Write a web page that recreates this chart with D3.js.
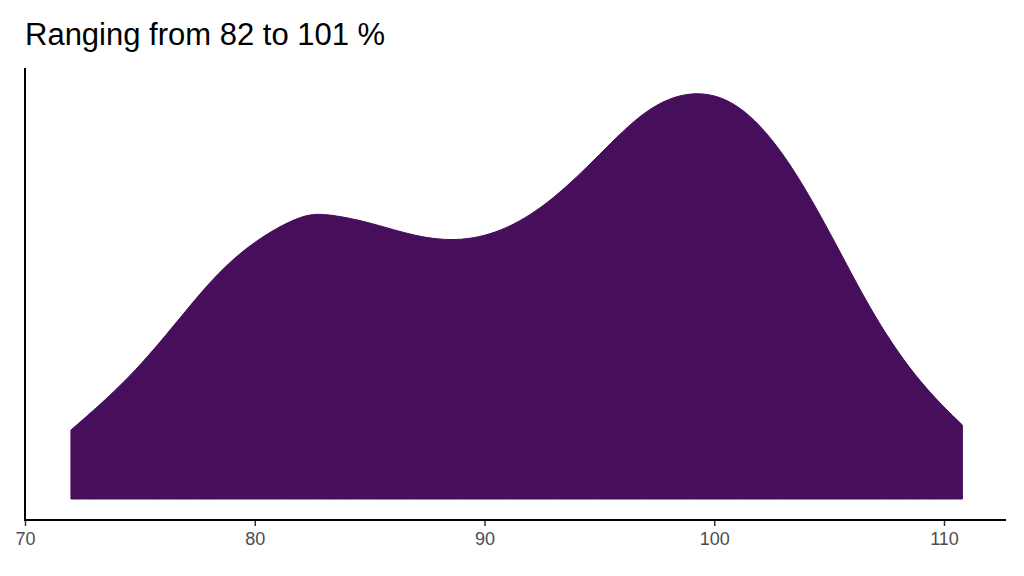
<!DOCTYPE html>
<html><head><meta charset="utf-8">
<script src="https://cdn.jsdelivr.net/npm/d3@7"></script>
<style>body{margin:0;background:#fff}</style></head>
<body><svg id="c" width="1024" height="576"></svg>
<script>
const xs = [72,75,78,80,82,83,85,87,89,91,93,95,97,99,101,103,105,107,109,110.8];
const dens = [69,129,219,259,284,286,277,262,257,269,299,344,391,410,399,349,269,179,114,74];
const xTicks = [70,80,90,100,110];
const title = "Ranging from 82 to 101 %";

const svg = d3.select("#c");
const x = d3.scaleLinear().domain([70,110]).range([25,944]);
const y = d3.scaleLinear().domain([0,410]).range([499,89]);
const data = xs.map((v,i)=>({x:v,d:dens[i]}));
svg.append("path").datum(data)
  .attr("d", d3.area().x(p=>x(p.x)).y0(y(0)).y1(p=>y(p.d)).curve(d3.curveBasis))
  .attr("fill","#470E5C").attr("stroke","#470E5C").attr("stroke-width",1);
// axes
const ax = svg.append("g").attr("transform","translate(0,520)")
  .call(d3.axisBottom(x).tickValues(xTicks).tickSize(6).tickPadding(6).tickSizeOuter(0));
ax.select(".domain").remove();
ax.selectAll("line").attr("stroke","#333").attr("stroke-width",1.5);
ax.selectAll("text").attr("fill","#4d4d4d").attr("font-size",18).attr("font-family","Liberation Sans, Arial, sans-serif");
svg.append("line").attr("x1",24).attr("x2",1006).attr("y1",520).attr("y2",520).attr("stroke","#000").attr("stroke-width",2);
svg.append("line").attr("x1",25).attr("x2",25).attr("y1",68).attr("y2",521).attr("stroke","#000").attr("stroke-width",2);
svg.append("text").attr("x",25).attr("y",45).text(title)
  .attr("font-size",31).attr("font-family","Liberation Sans, Arial, sans-serif").attr("fill","#000");
</script></body></html>
